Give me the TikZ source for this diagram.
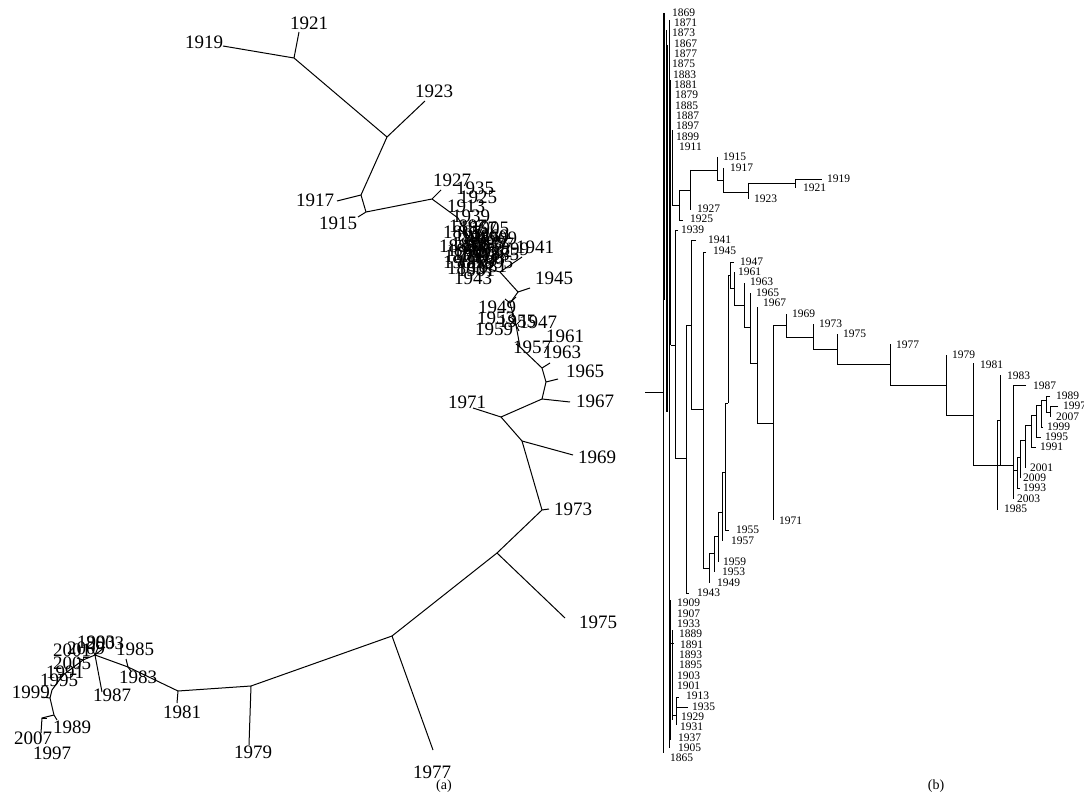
\documentclass[tikz,border=0pt]{standalone}
\usepackage{fontspec}
\setmainfont{Liberation Serif}
\usepackage{tikz}
\usetikzlibrary{positioning,calc}
\definecolor{Cline}{RGB}{0,0,0}
\tikzset{
    alab/.style={font=\fontsize{19}{19}\selectfont, inner sep=0pt, text=black},
    blab/.style={font=\fontsize{11.5}{12}\selectfont, inner sep=0pt, anchor=west, text=black},
    captxt/.style={font=\fontsize{14}{14}\selectfont, inner sep=0pt, text=black},
    abr/.style={line width=1pt, Cline, line join=round},
    bbr/.style={line width=0.9pt, Cline},
}

\begin{document}
\begin{tikzpicture}[x=1pt, y=-1pt]
\useasboundingbox (0,0) rectangle (1084,805);

    % ── (a) unrooted tree: tips ─────────────────────────
    \coordinate (t1919) at (223,46);
    \coordinate (t1921) at (299,32);
    \coordinate (t1923) at (425,101);
    \coordinate (t1917) at (337,201);
    \coordinate (t1915) at (358,217);
    \coordinate (t1927) at (441,190);
    \coordinate (t1941) at (522,257);
    \coordinate (t1945) at (530,288);
    \coordinate (t1963) at (550,363);
    \coordinate (t1965) at (558,379);
    \coordinate (t1967) at (570,402);
    \coordinate (t1971) at (473,408);
    \coordinate (t1969) at (573,455);
    \coordinate (t1973) at (549,509);
    \coordinate (t1975) at (565,618);
    \coordinate (t1977) at (433,750);
    \coordinate (t1979) at (249,745);
    \coordinate (t1981) at (177,703);
    \coordinate (t1985) at (126,659);
    \coordinate (t1983) at (131,671);
    \coordinate (t1987) at (102,692);
    \coordinate (t1999) at (42,697);
    \coordinate (t1989) at (57,720);
    \coordinate (t2007) at (41,733);
    \coordinate (t1997) at (47,718);

    % ── (a) inner nodes ─────────────────────────────────
    \coordinate (nA) at (294,58);
    \coordinate (nB) at (387,137);
    \coordinate (nC) at (361,195);
    \coordinate (nD) at (366,212);
    \coordinate (nE) at (432,199);
    \coordinate (nX) at (458,218);
    \coordinate (nY) at (485,268);
    \coordinate (nF) at (500,272);
    \coordinate (nG) at (518,292);
    \coordinate (nG2) at (510,303);
    \coordinate (nG3) at (516,325);
    \coordinate (nG4) at (520,347);
    \coordinate (nH1) at (542,368);
    \coordinate (nH) at (546,382);
    \coordinate (nI) at (542,399);
    \coordinate (nJ) at (501,417);
    \coordinate (nK) at (522,441);
    \coordinate (nL) at (542,510);
    \coordinate (nM) at (497,553);
    \coordinate (nN) at (392,636);
    \coordinate (nO) at (251,686);
    \coordinate (nP) at (178,691);
    \coordinate (nR) at (128,667);
    \coordinate (nQ) at (95,655);
    \coordinate (nS1) at (83,660);
    \coordinate (nS2) at (63,675);
    \coordinate (nS3) at (52,690);
    \coordinate (nU) at (50,698);
    \coordinate (nS) at (54,715);
    \coordinate (nT) at (42,718);
    \coordinate (nBlob) at (473,244);

    % ── (a) branches ────────────────────────────────────
    \draw [abr] (t1919) -- (nA) -- (t1921);
    \draw [abr] (nA) -- (nB) -- (t1923);
    \draw [abr] (nB) -- (nC) -- (t1917);
    \draw [abr] (nC) -- (nD) -- (t1915);
    \draw [abr] (nD) -- (nE) -- (t1927);
    \draw [abr] (nE) -- (nX) -- (nBlob) -- (nY) -- (nF) -- (t1941);
    \draw [abr] (nF) -- (nG) -- (t1945);
    \draw [abr] (nG) -- (nG2) -- (nG3) -- (nG4) -- (nH1) -- (t1963);
    \draw [abr] (nH1) -- (nH) -- (t1965);
    \draw [abr] (nH) -- (nI) -- (t1967);
    \draw [abr] (nI) -- (nJ) -- (t1971);
    \draw [abr] (nJ) -- (nK) -- (t1969);
    \draw [abr] (nK) -- (nL) -- (t1973);
    \draw [abr] (nL) -- (nM) -- (t1975);
    \draw [abr] (nM) -- (nN) -- (t1977);
    \draw [abr] (nN) -- (nO) -- (t1979);
    \draw [abr] (nO) -- (nP) -- (t1981);
    \draw [abr] (nP) -- (nR) -- (t1985);
    \draw [abr] (nR) -- (t1983);
    \draw [abr] (nR) -- (nQ) -- (t1987);
    \draw [abr] (nQ) -- (nS1) -- (nS2) -- (nS3) -- (nU) -- (t1999);
    \draw [abr] (nU) -- (nS) -- (t1989);
    \draw [abr] (nS) -- (nT) -- (t2007);
    \draw [abr] (nT) -- (t1997);
    % short twigs
    \foreach \dx/\dy in {-12/-14, -8/10, 10/-12, 14/8, 4/18, -14/4, 18/-4, 8/-20, -4/-22}
        \draw [abr] (nBlob) -- ++(\dx,\dy);
    \foreach \dx/\dy in {-5/-4, 6/-6}
        \draw [abr] (nG2) -- ++(\dx,\dy);
    \foreach \dx/\dy in {-6/-4, 5/-5, 3/6}
        \draw [abr] (nG3) -- ++(\dx,\dy);
    \draw [abr] (nG4) -- ++(-4,-3);
    \foreach \dx/\dy in {-4/-8, 4/-10, 10/-8}
        \draw [abr] (nQ) -- ++(\dx,\dy);
    \draw [abr] (nS1) -- ++(-6,-2);
    \draw [abr] (nS2) -- ++(-5,-1);

    % ── (a) labels ──────────────────────────────────────
    \foreach \yr/\px/\py in {
        1919/204/42, 1921/309/23, 1923/434/91, 1917/315/200, 1915/338/223,
        1927/452/180, 1935/475/188, 1925/478/197, 1913/466/206, 1939/471/216,
        1941/535/247, 1943/473/278, 1945/554/278, 1949/497/307, 1953/496/318,
        1955/517/321, 1947/538/322, 1959/494/329, 1957/532/347, 1961/565/336,
        1963/562/352, 1965/585/371, 1967/595/401, 1971/467/402, 1969/597/457,
        1973/573/509, 1975/598/622, 1977/432/772, 1979/253/752, 1981/182/712,
        1985/135/649, 1983/138/677, 1987/112/695, 2001/72/650, 2009/86/648,
        1993/96/642, 2003/105/643, 2005/72/663, 1991/65/672, 1995/59/680,
        1999/31/692, 1989/72/727, 2007/33/738, 1997/52/753}
        \node [alab] (la\yr) at (\px,\py) {\yr};
    % overlapping cluster
    \foreach \yr/\px/\py in {
        1865/462/232, 1867/478/228, 1869/490/236, 1871/470/244, 1873/484/250,
        1875/463/256, 1877/495/244, 1879/476/262, 1881/488/266, 1883/466/268,
        1885/500/254, 1887/480/238, 1889/458/246, 1891/472/254, 1893/486/258,
        1895/494/262, 1897/468/226, 1899/510/249, 1901/476/270, 1903/462/262,
        1905/490/228, 1907/481/246, 1909/498/238, 1911/473/235, 1929/487/242,
        1931/466/250, 1933/479/256, 1937/491/252}
        \node [alab] (lc\yr) at (\px,\py) {\yr};

    % ── (b) rooted phylogram ────────────────────────────
    \draw [bbr] (645,392) -- (663,392);
    \draw [bbr] (663,13) -- (663,753);
    \draw [bbr] (669,20) -- (669,748);
    \draw [bbr] (664.5,13) -- (664.5,300);
    \draw [bbr] (666,30) -- (666,412);
    \draw [bbr] (667.5,45) -- (667.5,412);
    \draw [bbr] (670.5,80) -- (670.5,345);
    \draw [bbr] (672,130) -- (672,205);
    \draw [bbr] (670.5,600) -- (670.5,740);
    \draw [bbr] (672,630) -- (672,720);
    \draw [bbr] (669,643) -- (674,643);
    % 1913 / 1935
    \draw [bbr] (672,715) -- (676,715);
    \draw [bbr] (676,697) -- (676,725);
    \draw [bbr] (676,697) -- (679,697);
    \draw [bbr] (676,707) -- (688,707);
    % 1915 -- 1927
    \draw [bbr] (672,205) -- (679,205);
    \draw [bbr] (679,190) -- (679,220) -- (683,220);
    \draw [bbr] (679,190) -- (690,190);
    \draw [bbr] (690,170) -- (690,210);
    \draw [bbr] (690,170) -- (717,170);
    \draw [bbr] (717,157) -- (717,180);
    \draw [bbr] (717,180) -- (723,180);
    \draw [bbr] (723,168) -- (723,192);
    \draw [bbr] (723,192) -- (748,192);
    \draw [bbr] (748,183) -- (748,199);
    \draw [bbr] (748,183) -- (795,183);
    \draw [bbr] (795,179) -- (795,188);
    \draw [bbr] (795,179) -- (822,179);
    % 1939 and the later lineage
    \draw [bbr] (670.5,345) -- (675,345);
    \draw [bbr] (678,230) -- (675,230) -- (675,458);
    \draw [bbr] (675,458) -- (686,458);
    \draw [bbr] (686,325) -- (686,593) -- (689,593);
    \draw [bbr] (686,325) -- (691,325);
    \draw [bbr] (696,240) -- (691,240) -- (691,409);
    \draw [bbr] (691,409) -- (703,409);
    \draw [bbr] (706,252) -- (703,252) -- (703,568);
    \draw [bbr] (703,568) -- (709,568);
    \draw [bbr] (709,553) -- (709,583);
    \draw [bbr] (709,553) -- (714,553);
    \draw [bbr] (714,536) -- (714,572);
    \draw [bbr] (714,536) -- (718,536);
    \draw [bbr] (718,512) -- (718,562);
    \draw [bbr] (718,512) -- (722,512);
    \draw [bbr] (722,472) -- (722,541);
    \draw [bbr] (722,472) -- (725,472);
    \draw [bbr] (725,403) -- (725,530) -- (729,530);
    \draw [bbr] (725,403) -- (728,403);
    \draw [bbr] (728,275) -- (728,403);
    \draw [bbr] (728,275) -- (730,275);
    \draw [bbr] (734,262) -- (730,262) -- (730,288);
    \draw [bbr] (730,288) -- (734,288);
    \draw [bbr] (734,272) -- (734,305);
    \draw [bbr] (734,305) -- (744,305);
    \draw [bbr] (744,283) -- (744,327);
    \draw [bbr] (744,327) -- (750,327);
    \draw [bbr] (750,293) -- (750,363);
    \draw [bbr] (750,363) -- (757,363);
    \draw [bbr] (757,307) -- (757,423);
    \draw [bbr] (757,423) -- (773,423);
    \draw [bbr] (773,325) -- (773,520);
    \draw [bbr] (773,325) -- (786,325);
    \draw [bbr] (786,314) -- (786,337);
    \draw [bbr] (786,337) -- (813,337);
    \draw [bbr] (813,324) -- (813,349);
    \draw [bbr] (813,349) -- (837,349);
    \draw [bbr] (837,334) -- (837,364);
    \draw [bbr] (837,364) -- (890,364);
    \draw [bbr] (890,344) -- (890,385);
    \draw [bbr] (890,385) -- (946,385);
    \draw [bbr] (946,355) -- (946,415);
    \draw [bbr] (946,415) -- (973,415);
    \draw [bbr] (973,363) -- (973,465);
    \draw [bbr] (973,465) -- (1013,465);
    \draw [bbr] (1000,375) -- (1000,465);
    \draw [bbr] (997,420) -- (997,510);
    \draw [bbr] (997,420) -- (1000,420);
    % crown
    \draw [bbr] (1026,385) -- (1013,385) -- (1013,499);
    \draw [bbr] (1013,470) -- (1017,470);
    \draw [bbr] (1017,457) -- (1017,488) -- (1020,488);
    \draw [bbr] (1017,457) -- (1020,457);
    \draw [bbr] (1020,440) -- (1020,478);
    \draw [bbr] (1020,440) -- (1025,440);
    \draw [bbr] (1025,425) -- (1025,468);
    \draw [bbr] (1025,425) -- (1031,425);
    \draw [bbr] (1031,415) -- (1031,447) -- (1036,447);
    \draw [bbr] (1031,415) -- (1036,415);
    \draw [bbr] (1036,405) -- (1036,437) -- (1041,437);
    \draw [bbr] (1036,405) -- (1041,405);
    \draw [bbr] (1041,400) -- (1041,427) -- (1043,427);
    \draw [bbr] (1041,400) -- (1046,400);
    \draw [bbr] (1050,396) -- (1046,396) -- (1046,412);
    \draw [bbr] (1046,412) -- (1050,412);
    \draw [bbr] (1058,406) -- (1050,406) -- (1050,417);

    % ── (b) labels ──────────────────────────────────────
    \foreach \yr/\px/\py in {
        1869/672/13, 1871/674/23, 1873/672/33, 1867/674/44, 1877/674/54,
        1875/672/64, 1883/673/75, 1881/674/85, 1879/675/95, 1885/675/106,
        1887/676/116, 1897/676/126, 1899/676/137, 1911/679/147, 1915/723/157,
        1917/730/168, 1919/827/179, 1921/803/188, 1923/754/199, 1927/697/209,
        1925/690/219, 1939/681/230, 1941/708/240, 1945/713/251, 1947/740/262,
        1961/738/272, 1963/750/282, 1965/756/293, 1967/763/303, 1969/792/314,
        1973/819/324, 1975/843/334, 1977/896/345, 1979/952/355, 1981/980/365,
        1983/1007/376, 1987/1033/386, 1989/1056/396, 1997/1063/406, 2007/1056/417,
        1999/1047/427, 1995/1045/437, 1991/1040/447, 2001/1030/468, 2009/1023/478,
        1993/1023/488, 2003/1017/499, 1985/1004/509, 1971/779/521, 1955/736/530,
        1957/731/541, 1959/723/562, 1953/722/572, 1949/717/583, 1943/697/593,
        1909/677/603, 1907/677/614, 1933/677/624, 1889/679/634, 1891/680/645,
        1893/679/655, 1895/679/665, 1903/677/676, 1901/677/686, 1913/686/696,
        1935/692/707, 1929/681/717, 1931/680/727, 1937/678/738, 1905/678/748,
        1865/670/758}
        \node [blab] (lb\yr) at (\px,\py) {\yr};

    % ── captions ────────────────────────────────────────
    \node [captxt] (capa) at (444,786) {(a)};
    \node [captxt] (capb) at (936,786) {(b)};

\end{tikzpicture}
\end{document}
